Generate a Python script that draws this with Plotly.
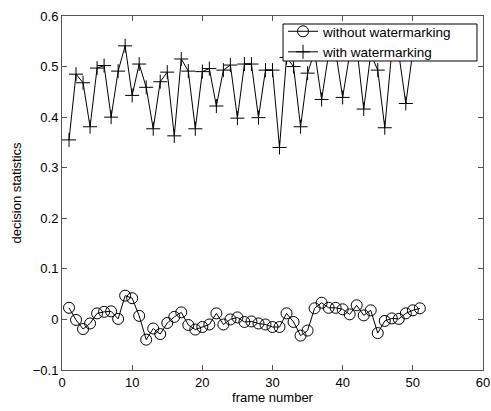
import plotly.graph_objects as go

frames = list(range(1, 52))

without_wm = [0.023, -0.001, -0.019, -0.008, 0.012, 0.015, 0.016, 0.001, 0.047, 0.042,
              0.007, -0.040, -0.018, -0.029, -0.007, 0.005, 0.014, -0.011, -0.020, -0.015,
              -0.010, 0.012, -0.010, 0.000, 0.004, -0.005, -0.004, -0.008, -0.010, -0.015,
              -0.015, 0.012, -0.005, -0.032, -0.022, 0.022, 0.033, 0.023, 0.023, 0.020,
              0.010, 0.028, 0.008, 0.018, -0.027, -0.003, 0.002, 0.001, 0.012, 0.018,
              0.022]

with_wm = [0.355, 0.485, 0.468, 0.381, 0.497, 0.502, 0.400, 0.491, 0.541, 0.443,
           0.505, 0.459, 0.377, 0.470, 0.489, 0.363, 0.515, 0.491, 0.377, 0.490,
           0.496, 0.422, 0.493, 0.503, 0.398, 0.505, 0.505, 0.399, 0.493, 0.493,
           0.340, 0.518, 0.500, 0.381, 0.487, 0.530, 0.435, 0.525, 0.530, 0.439,
           0.525, 0.540, 0.416, 0.525, 0.493, 0.379, 0.530, 0.525, 0.427, 0.530,
           0.525]

x_ticks = [0, 10, 20, 30, 40, 50, 60]
y_ticks = [-0.1, 0, 0.1, 0.2, 0.3, 0.4, 0.5, 0.6]
y_tick_labels = ["\u22120.1", "0", "0.1", "0.2", "0.3", "0.4", "0.5", "0.6"]

font = "Liberation Sans, Arial, sans-serif"

fig = go.Figure()
fig.add_trace(go.Scatter(
    x=frames, y=without_wm, mode="lines+markers", name="without watermarking",
    line=dict(color="black", width=1),
    marker=dict(symbol="circle-open", size=11, color="black", line=dict(width=1)),
))
fig.add_trace(go.Scatter(
    x=frames, y=with_wm, mode="lines+markers", name="with watermarking",
    line=dict(color="black", width=1),
    marker=dict(symbol="cross-thin-open", size=10, color="black", line=dict(width=1, color="black")),
))

axis_common = dict(
    showline=True, linecolor="#555", linewidth=1, mirror="allticks",
    ticks="inside", ticklen=5, tickcolor="#555", showgrid=False, zeroline=False,
    automargin=False,
    tickfont=dict(family=font, size=13, color="black"),
)

# legend frame (opaque box like the original), legend entries drawn on top of it
fig.add_shape(type="rect", xref="paper", yref="paper",
              x0=0.525, x1=0.9857, y0=0.8729, y1=0.9774,
              fillcolor="white", line=dict(color="black", width=1), layer="above")

fig.update_layout(
    width=491, height=411,
    margin=dict(l=62, r=8, t=16, b=41, autoexpand=False),
    paper_bgcolor="white", plot_bgcolor="white",
    font=dict(family=font, size=13, color="black"),
    showlegend=True,
    legend=dict(x=0.525, y=1.0, xanchor="left", yanchor="top",
                borderwidth=0, bgcolor="rgba(0,0,0,0)",
                font=dict(family=font, size=13.5, color="black"),
                tracegroupgap=0, itemwidth=30),
    xaxis=dict(range=[0, 60], tickvals=x_ticks,
               title=dict(text="frame number", font=dict(family=font, size=13), standoff=0),
               **axis_common),
    yaxis=dict(range=[-0.1, 0.6], tickvals=y_ticks, ticktext=y_tick_labels,
               title=dict(text="decision statistics", font=dict(family=font, size=13), standoff=8),
               **axis_common),
)

fig.write_html("out.html",
               config={"displayModeBar": False},
               post_script="document.body.style.margin='0';document.body.style.padding='0';")
